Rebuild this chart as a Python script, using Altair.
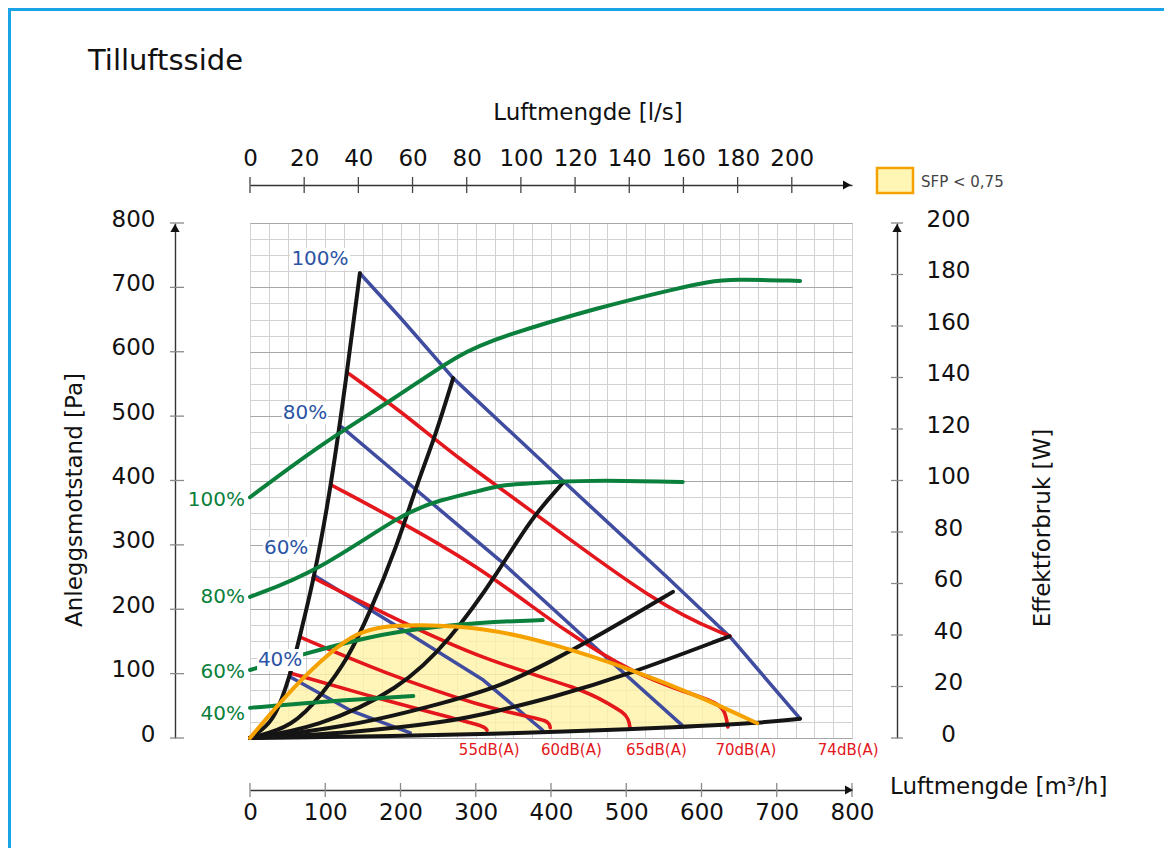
import altair as alt
import pandas as pd

# ---------------- tick labels ----------------
flow_ticks = [0, 100, 200, 300, 400, 500, 600, 700, 800]            # m³/h
ls_ticks = [0, 20, 40, 60, 80, 100, 120, 140, 160, 180, 200]        # l/s
pa_ticks = [0, 100, 200, 300, 400, 500, 600, 700, 800]              # Pa
w_ticks = [0, 20, 40, 60, 80, 100, 120, 140, 160, 180, 200]         # W
grid_vals = list(range(0, 801, 25))                                  # grid every 25

# ---------------- system curves (black), x = m³/h, y = Pa ----------------
sys_names = ["s1", "s2", "s3", "s4", "s5", "s6"]
sys1_x = [0, 15, 33, 53, 66, 86, 108, 129, 146]
sys1_y = [0, 12, 30, 95, 157, 252, 393, 568, 722]
sys2_x = [0, 57, 97, 129, 159, 195, 222, 246, 270]
sys2_y = [0, 17, 70, 121, 194, 297, 395, 468, 559]
sys3_x = [0, 89, 199, 266, 332, 372, 417]
sys3_y = [0, 16, 75, 152, 261, 339, 398]
sys4_x = [0, 133, 266, 332, 399, 465, 562]
sys4_y = [0, 17, 57, 80, 118, 160, 227]
sys5_x = [0, 133, 266, 332, 399, 501, 637]
sys5_y = [0, 8, 25, 43, 62, 98, 158]
sys6_x = [0, 199, 332, 399, 575, 674, 731]
sys6_y = [0, 3, 7, 9, 17, 23, 30]

# ---------------- fan speed curves (blue) ----------------
fan_names = ["100%", "80%", "60%", "40%"]
fan100_x = [146, 199, 270, 419, 554, 638, 731]
fan100_y = [722, 654, 559, 396, 250, 157, 30]
fan80_x = [122, 199, 332, 452, 574]
fan80_y = [483, 407, 276, 148, 20]
fan60_x = [86, 203, 310, 389]
fan60_y = [252, 168, 90, 12]
fan40_x = [53, 133, 213]
fan40_y = [95, 43, 8]

# ---------------- sound curves (red) ----------------
db_names = ["74", "70", "65", "60", "55"]
db74_x = [129, 199, 279, 355, 545, 638]
db74_y = [568, 509, 432, 370, 203, 158]
db70_x = [108, 203, 310, 421, 509, 581, 622, 632, 635]
db70_y = [393, 334, 262, 163, 101, 70, 55, 40, 17]
db65_x = [84, 177, 310, 443, 478, 496, 503, 505]
db65_y = [249, 194, 121, 76, 52, 40, 30, 16]
db60_x = [66, 177, 310, 380, 393, 398, 399]
db60_y = [157, 101, 48, 31, 27, 22, 16]
db55_x = [53, 177, 279, 305, 313, 315]
db55_y = [101, 59, 28, 20, 16, 12]

# ---------------- SFP < 0.75 region (orange / yellow) ----------------
sfp_x = [0, 57, 110, 142, 177, 222, 310, 399, 509, 598, 674]
sfp_y = [0, 79, 137, 163, 174, 176, 172, 148, 106, 64, 23]
sfp_floor = [0, 1, 2, 2, 3, 4, 7, 9, 14, 19, 23]

# ---------------- power curves (green), y = W ----------------
pow_names = ["100%", "80%", "60%", "40%"]
p100_x = [0, 102, 190, 279, 332, 465, 571, 607, 642, 731]
p100_w = [93.5, 115.7, 131.3, 149.5, 155.7, 167.4, 174.8, 177.1, 178.3, 177.5]
p80_x = [0, 89, 203, 252, 310, 332, 399, 465, 575]
p80_w = [54.8, 64.5, 87.4, 92.4, 96.3, 98.3, 99.4, 100.2, 99.4]
p60_x = [0, 76, 142, 203, 310, 389]
p60_w = [26.4, 33.0, 38.1, 41.9, 45.0, 45.8]
p40_x = [0, 89, 217]
p40_w = [11.7, 14.0, 16.3]

# ---------------- labels ----------------
fan_label_text = ["100%", "80%", "60%", "40%"]
fan_label_x = [93, 73, 48, 40]
fan_label_y = [744, 505, 295, 121]
pow_label_text = ["100%", "80%", "60%", "40%"]
pow_label_w = [92.6, 54.8, 25.6, 9.3]
db_label_text = ["55dB(A)", "60dB(A)", "65dB(A)", "70dB(A)", "74dB(A)"]
db_label_x = [318, 427, 540, 659, 795]

# ---------------- styling ----------------
FONT = "DejaVu Sans"
BLACK = "#151515"
BLUE = "#3f4c9f"
BLUE_TXT = "#2b54a5"
RED = "#e3171c"
GREEN = "#0b7f3c"
ORANGE = "#f5a100"
YELLOW = "#fff3a6"
TICK = "#8a8a8a"
PW, PH = 602, 515
OX, OY = 250, 223  # page position of plot origin

XS = alt.Scale(domain=[0, 800], nice=False, zero=False)
PAS = alt.Scale(domain=[0, 800], nice=False)
WS = alt.Scale(domain=[0, 200], nice=False)
MAJOR = "datum.value % 100 === 0"


def curve_df(names, xlists, ylists):
    rows = []
    for n, xv, yv in zip(names, xlists, ylists):
        for i, (a, b) in enumerate(zip(xv, yv)):
            rows.append({"curve": n, "x": a, "v": b, "i": i})
    return pd.DataFrame(rows)


def lines(df, color, width, yscale, xaxis=None, interp="basis"):
    return alt.Chart(df).mark_line(
        color=color, strokeWidth=width, interpolate=interp,
        strokeCap="round", strokeJoin="round"
    ).encode(
        x=alt.X("x:Q", scale=XS, axis=xaxis),
        y=alt.Y("v:Q", scale=yscale, axis=None),
        detail="curve:N",
        order="i:Q",
    )


def txt(s, px, py, size=23, color="#111", align="center", angle=0, baseline="middle"):
    return alt.Chart(alt.Data(values=[{}])).mark_text(
        text=s, fontSize=size, color=color, align=align, baseline=baseline,
        angle=angle, font=FONT
    ).encode(x=alt.value(px - OX), y=alt.value(py - OY))


def arrow(shape, px, py):
    return alt.Chart(alt.Data(values=[{}])).mark_point(
        shape=shape, filled=True, size=85, color="#111", opacity=1
    ).encode(x=alt.value(px - OX), y=alt.value(py - OY))


def xticks(values, py0, py1, color=TICK):
    return alt.Chart(pd.DataFrame({"x": values})).mark_rule(color=color, strokeWidth=1.3).encode(
        x=alt.X("x:Q", scale=XS, axis=None), y=alt.value(py0 - OY), y2=alt.value(py1 - OY)
    )


def yticks(values, scale, px0, px1, color=TICK):
    return alt.Chart(pd.DataFrame({"v": values})).mark_rule(color=color, strokeWidth=1.3).encode(
        y=alt.Y("v:Q", scale=scale, axis=None), x=alt.value(px0 - OX), x2=alt.value(px1 - OX)
    )


# ---------------- axes (labels, domain lines, grid) ----------------
bottom_axis = alt.Axis(
    orient="bottom", offset=52, values=grid_vals, grid=True, gridColor="#d2d2d2", gridWidth=1,
    labelExpr=f"{MAJOR} ? datum.label : ''", labelFontSize=23, labelColor="#111", labelFont=FONT,
    labelPadding=4, labelFlush=False, labelOverlap=False, labelBaseline="top",
    tickSize=7, tickOpacity=0,
    domainColor="#333", domainWidth=1.4, title=None,
)
left_axis = alt.Axis(
    orient="left", offset=75, values=grid_vals, grid=True,
    gridColor={"condition": {"test": MAJOR, "value": "#a8a8a8"}, "value": "#d2d2d2"},
    gridWidth=1,
    labelExpr=f"{MAJOR} ? datum.label : ''", labelFontSize=23, labelColor="#111", labelFont=FONT,
    labelPadding=13, labelFlush=False, labelOverlap=False, labelOffset=-4,
    tickSize=7, tickOpacity=0,
    domainColor="#333", domainWidth=1.4, title=None,
)
top_axis = alt.Axis(
    orient="top", offset=38, values=[v * 3.6 for v in ls_ticks], grid=False,
    labelExpr="round(datum.value / 3.6) + ''", labelFontSize=23, labelColor="#111", labelFont=FONT,
    labelPadding=8, labelFlush=False, labelOverlap=False,
    tickSize=7, tickOpacity=0,
    domainColor="#333", domainWidth=1.4, title=None,
)
right_axis = alt.Axis(
    orient="right", offset=45, values=w_ticks, grid=False,
    labelFontSize=23, labelColor="#111", labelFont=FONT, labelAlign="center",
    labelPadding=45, labelFlush=False, labelOverlap=False, labelOffset=-4,
    tickSize=6, tickOpacity=0,
    domainColor="#333", domainWidth=1.4, title=None,
)

# ---------------- layers ----------------
sfp_df = pd.DataFrame({"x": sfp_x, "v": sfp_y, "floor": sfp_floor})
fill = alt.Chart(sfp_df).mark_area(color=YELLOW, opacity=0.8, interpolate="basis").encode(
    x=alt.X("x:Q", scale=XS, axis=bottom_axis),
    y=alt.Y("v:Q", scale=PAS, axis=left_axis),
    y2=alt.Y2("floor"),
)
orange = alt.Chart(sfp_df).mark_line(color=ORANGE, strokeWidth=4, interpolate="basis",
                                     strokeCap="round").encode(
    x=alt.X("x:Q", scale=XS, axis=None),
    y=alt.Y("v:Q", scale=PAS, axis=None),
)

blue = lines(curve_df(fan_names, [fan100_x, fan80_x, fan60_x, fan40_x],
                      [fan100_y, fan80_y, fan60_y, fan40_y]), BLUE, 3.5, PAS, xaxis=top_axis,
             interp="linear")
red = lines(curve_df(db_names, [db74_x, db70_x, db65_x, db60_x, db55_x],
                     [db74_y, db70_y, db65_y, db60_y, db55_y]), RED, 3.6, PAS)
black = lines(curve_df(sys_names, [sys1_x, sys2_x, sys3_x, sys4_x, sys5_x, sys6_x],
                       [sys1_y, sys2_y, sys3_y, sys4_y, sys5_y, sys6_y]), BLACK, 4, PAS)

pow_df = curve_df(pow_names, [p100_x, p80_x, p60_x, p40_x], [p100_w, p80_w, p60_w, p40_w])
green = alt.Chart(pow_df).mark_line(color=GREEN, strokeWidth=4, interpolate="basis",
                                    strokeCap="round").encode(
    x=alt.X("x:Q", scale=XS, axis=None),
    y=alt.Y("v:Q", scale=WS, axis=right_axis),
    detail="curve:N", order="i:Q",
)

fan_lbl_df = pd.DataFrame({"t": fan_label_text, "x": fan_label_x, "v": fan_label_y})
fan_bgs = []
for t, lx, ly in zip(fan_label_text, fan_label_x, fan_label_y):
    hw = 7 * len(t) + 2
    fan_bgs.append(
        alt.Chart(pd.DataFrame({"x": [lx], "v": [ly]})).mark_rect(
            color="white", xOffset=-hw, x2Offset=hw, yOffset=-11, y2Offset=11
        ).encode(
            x=alt.X("x:Q", scale=XS, axis=None), x2=alt.X2("x"),
            y=alt.Y("v:Q", scale=PAS, axis=None), y2=alt.Y2("v"),
        )
    )
fan_lbl = alt.Chart(fan_lbl_df).mark_text(fontSize=20, color=BLUE_TXT, font=FONT).encode(
    x=alt.X("x:Q", scale=XS, axis=None),
    y=alt.Y("v:Q", scale=PAS, axis=None),
    text="t:N",
)

pow_lbl_df = pd.DataFrame({"t": pow_label_text, "x": [0] * len(pow_label_text), "v": pow_label_w})
pow_lbl = alt.Chart(pow_lbl_df).mark_text(fontSize=20, color=GREEN, font=FONT, align="right",
                                          dx=-5).encode(
    x=alt.X("x:Q", scale=XS, axis=None),
    y=alt.Y("v:Q", scale=WS, axis=None),
    text="t:N",
)

db_lbl_df = pd.DataFrame({"t": db_label_text, "x": db_label_x})
db_lbl = alt.Chart(db_lbl_df).mark_text(fontSize=15, color=RED, font=FONT).encode(
    x=alt.X("x:Q", scale=XS, axis=None),
    y=alt.value(750 - OY),
    text="t:N",
)

# tick marks crossing the axis lines
tick_layers = [
    xticks(flow_ticks, 783, 797),
    xticks([v * 3.6 for v in ls_ticks], 177, 193, color="#444"),
    yticks(pa_ticks, PAS, 170, 184),
    yticks(w_ticks, WS, 891, 903),
]

one = alt.Data(values=[{}])
legend_box = alt.Chart(one).mark_rect(fill="#fff6b5", stroke=ORANGE, strokeWidth=2.5).encode(
    x=alt.value(877 - OX), x2=alt.value(913 - OX), y=alt.value(168 - OY), y2=alt.value(193 - OY)
)
border_left = alt.Chart(one).mark_rule(color="#1aa3e6", strokeWidth=3).encode(
    x=alt.value(9.5 - OX), y=alt.value(8 - OY), y2=alt.value(850 - OY)
)
border_top = alt.Chart(one).mark_rule(color="#1aa3e6", strokeWidth=3).encode(
    x=alt.value(8 - OX), x2=alt.value(1166 - OX), y=alt.value(9.5 - OY)
)

decor = [
    border_left, border_top,
    txt("Tilluftsside", 88, 61, size=29, align="left"),
    txt("Luftmengde [l/s]", 588, 113),
    txt("Anleggsmotstand [Pa]", 75, 500, angle=270),
    txt("Effektforbruk [W]", 1043, 528, angle=270),
    txt("Luftmengde [m³/h]", 890, 787, align="left"),
    legend_box,
    txt("SFP < 0,75", 921, 182, size=15, color="#444", align="left"),
    arrow("triangle-up", 175, 228),
    arrow("triangle-up", 897, 228),
    arrow("triangle-right", 847, 185),
    arrow("triangle-right", 849, 790),
]

chart = alt.layer(
    fill, blue, red, black, green, orange, *fan_bgs, fan_lbl, pow_lbl, db_lbl,
    *tick_layers, *decor
).resolve_scale(y="independent").resolve_axis(x="independent").properties(
    width=PW, height=PH,
    padding={"left": OX - 8, "top": OY - 8, "right": 312, "bottom": 110},
    autosize=alt.AutoSizeParams(type="none"),
).configure_view(stroke="#a0a0a0", strokeWidth=1).configure(font=FONT, background="white")

chart.save("out.html", embed_options={"renderer": "svg", "actions": False})
